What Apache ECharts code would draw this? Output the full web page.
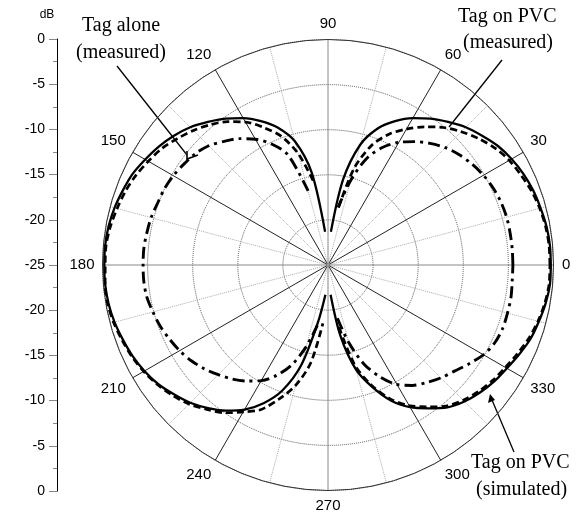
<!DOCTYPE html>
<html>
<head>
<meta charset="utf-8">
<script src="https://cdn.jsdelivr.net/npm/echarts@6/dist/echarts.min.js"></script>
<style>
html, body { margin: 0; padding: 0; background: #fff; }
#main { width: 581px; height: 520px; }
</style>
</head>
<body>
<div id="main"></div>
<script>
// angle step 5 deg, 0..355 ; null = curve not drawn (deep null around 90 / 270)
var angles = [];
for (var a = 0; a < 360; a += 5) angles.push(a);

// Tag on PVC (simulated) - solid
var pvcSim = [
  -0.3, -0.3, -0.4, -0.6, -0.8, -1.1, -1.5, -2.0, -2.7, -3.4, -4.3, -5.2, -6.2, -7.4, -8.9, -11.2, -15.4, -21.3,
  null, -21.3, -14.6, -10.8, -8.8, -7.4, -6.2, -5.2, -4.3, -3.4, -2.7, -2.1, -1.6, -1.1, -0.8, -0.5, -0.3, -0.2,
  -0.2, -0.2, -0.3, -0.5, -0.8, -1.1, -1.5, -2.0, -2.7, -3.4, -4.3, -5.3, -6.5, -8.1, -10.2, -13.5, -18.5, -21.7,
  null, -21.7, -17.0, -13.0, -10.6, -8.4, -6.8, -5.6, -4.4, -3.6, -3.0, -2.5, -2.1, -1.6, -1.1, -0.8, -0.5, -0.3
];

// Tag on PVC (measured) - dashed
var pvcMeas = [
  -0.4, -0.4, -0.5, -0.7, -1.0, -1.4, -1.8, -2.4, -3.2, -4.1, -5.1, -6.3, -7.6, -9.0, -10.9, -14.0, -18.8, null,
  null, null, -15.5, -12.2, -9.8, -8.2, -6.7, -5.6, -4.7, -3.9, -3.2, -2.5, -2.0, -1.5, -1.1, -0.8, -0.5, -0.3,
  -0.3, -0.2, -0.2, -0.4, -0.7, -1.0, -1.4, -1.9, -2.5, -3.2, -4.1, -5.0, -6.2, -7.3, -9.2, -11.2, -14.0, -18.5,
  null, null, -18.0, -13.5, -10.8, -8.6, -7.0, -5.8, -4.6, -3.8, -3.2, -2.7, -2.3, -1.8, -1.3, -0.9, -0.6, -0.4
];

// Tag alone (measured) - dash dot
var tagAlone = [
  -4.5, -4.5, -4.5, -4.5, -4.6, -4.8, -5.1, -5.5, -6.0, -6.6, -7.4, -8.3, -9.3, -10.6, -12.4, -15.3, -18.5, null,
  null, null, null, -16.5, -12.0, -10.2, -8.9, -7.9, -7.1, -6.3, -5.8, -5.5, -5.2, -5.0, -4.9, -4.7, -4.6, -4.5,
  -4.5, -4.5, -4.6, -4.9, -5.2, -5.6, -6.0, -6.5, -7.1, -7.8, -8.5, -9.3, -10.2, -11.5, -13.2, -15.6, -18.2, null,
  null, null, -19.0, -16.1, -13.3, -11.3, -9.7, -8.7, -8.0, -7.3, -6.7, -5.9, -5.1, -4.6, -4.4, -4.4, -4.4, -4.5
];

// angle tick labels (0 is placed separately, it sits on the seam of the circle)
var angleTicks = [30, 60, 90, 120, 150, 180, 210, 240, 270, 300, 330];

function toPolar(vals) {
  var out = angles.map(function (ang, i) {
    return [vals[i] === null ? '-' : vals[i], ang];
  });
  out.push([vals[0], 360]);
  return out;
}

var sans = 'Liberation Sans';
var serif = 'Liberation Serif';

var option = {
  backgroundColor: '#fff',
  animation: false,
  polar: {
    center: [328, 265],
    radius: 225.5
  },
  angleAxis: {
    type: 'value',
    min: 0,
    max: 360,
    interval: 30,
    startAngle: 0,
    clockwise: false,
    axisLine: { show: true, lineStyle: { color: '#333', width: 1 } },
    axisTick: { show: false },
    axisLabel: {
      margin: 8,
      fontFamily: sans,
      fontSize: 15,
      color: '#000',
      formatter: function (v) { return angleTicks.indexOf(v) >= 0 ? String(v) : ''; }
    },
    splitLine: { show: true, lineStyle: { color: ['#888', '#222', '#222', '#888', '#222', '#222'], width: 1 } },
    minorTick: { show: false, splitNumber: 2 },
    minorSplitLine: { show: true, lineStyle: { color: '#aaa', type: 'dotted', width: 1 } }
  },
  radiusAxis: {
    type: 'value',
    min: -25,
    max: 0,
    interval: 5,
    axisLine: { show: false },
    axisTick: { show: false },
    axisLabel: { show: false },
    splitLine: { show: true, lineStyle: { color: '#555', type: 'dotted', width: 1 } }
  },
  grid: { left: 57, top: 39, width: 1, height: 452 },
  xAxis: { type: 'value', show: false },
  yAxis: {
    type: 'value',
    min: 0,
    max: 50,
    interval: 5,
    name: 'dB',
    nameLocation: 'end',
    nameGap: 18,
    nameTextStyle: { fontFamily: sans, fontSize: 12, color: '#000', padding: [0, 20, 0, 0] },
    axisLine: { show: true, lineStyle: { color: '#000', width: 1 } },
    axisTick: { show: true, length: 8, lineStyle: { color: '#888' } },
    minorTick: { show: true, splitNumber: 2, length: 4, lineStyle: { color: '#888' } },
    splitLine: { show: false },
    axisLabel: {
      margin: 12,
      fontFamily: sans,
      fontSize: 14,
      color: '#000',
      formatter: function (v) { return String(Math.abs(v - 25) - 25); }
    }
  },
  series: [
    {
      name: 'Tag on PVC (simulated)',
      type: 'line',
      coordinateSystem: 'polar',
      showSymbol: false,
      smooth: 0.3,
      data: toPolar(pvcSim),
      lineStyle: { color: '#000', width: 2.3 }
    },
    {
      name: 'Tag on PVC (measured)',
      type: 'line',
      coordinateSystem: 'polar',
      showSymbol: false,
      smooth: 0.3,
      data: toPolar(pvcMeas),
      lineStyle: { color: '#000', width: 2.7, type: [7, 4] }
    },
    {
      name: 'Tag alone (measured)',
      type: 'line',
      coordinateSystem: 'polar',
      showSymbol: false,
      smooth: 0.3,
      data: toPolar(tagAlone),
      lineStyle: { color: '#000', width: 2.9, type: [12, 5, 3, 5] }
    }
  ],
  graphic: [
    { type: 'text', left: 562, top: 257, style: { text: '0', font: '15px ' + sans, fill: '#000' } },
    { type: 'text', left: 82, top: 16, style: { text: 'Tag alone', font: '20px ' + serif, fill: '#000' } },
    { type: 'text', left: 76, top: 43, style: { text: '(measured)', font: '20px ' + serif, fill: '#000' } },
    { type: 'text', left: 458, top: 7, style: { text: 'Tag on PVC', font: '20px ' + serif, fill: '#000' } },
    { type: 'text', left: 463, top: 33, style: { text: '(measured)', font: '20px ' + serif, fill: '#000' } },
    { type: 'text', left: 471, top: 453, style: { text: 'Tag on PVC', font: '20px ' + serif, fill: '#000' } },
    { type: 'text', left: 476, top: 480, style: { text: '(simulated)', font: '20px ' + serif, fill: '#000' } },
    { type: 'line', shape: { x1: 117, y1: 66, x2: 187, y2: 155 }, style: { stroke: '#000', lineWidth: 1.3 } },
    { type: 'polyline', shape: { points: [[187, 151], [187, 159], [198, 155]] }, style: { stroke: '#000', lineWidth: 1.6, fill: null } },
    { type: 'line', shape: { x1: 502, y1: 60, x2: 449, y2: 127 }, style: { stroke: '#000', lineWidth: 1.3 } },
    { type: 'line', shape: { x1: 514, y1: 452, x2: 492, y2: 400 }, style: { stroke: '#000', lineWidth: 1.3 } },
    { type: 'polygon', shape: { points: [[490, 394], [488, 403], [495, 400]] }, style: { fill: '#000' } }
  ]
};

var myChart = echarts.init(document.getElementById('main'));
myChart.setOption(option);
</script>
</body>
</html>
